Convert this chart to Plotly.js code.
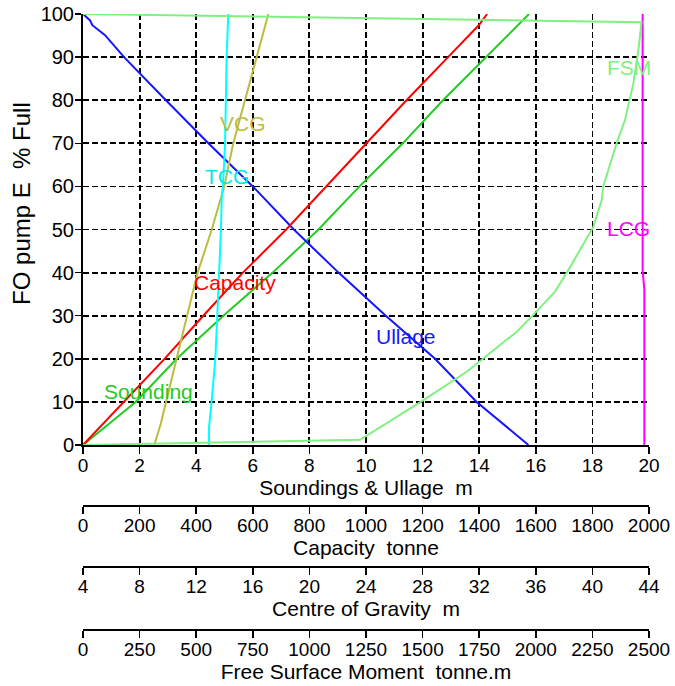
<!DOCTYPE html>
<html>
<head>
<meta charset="utf-8">
<script src="https://cdn.plot.ly/plotly-3.0.1.min.js"></script>
<style>html,body{margin:0;padding:0;background:#fff;}#chart{width:675px;height:686px;}</style>
</head>
<body>
<div id="chart"></div>
<script>
// % full levels and readings
const soundPct   = [0, 10, 20, 30, 40, 50, 60, 70, 80, 90, 100];
const sounding   = [0, 1.86, 3.31, 4.96, 6.7, 8.32, 9.77, 11.3, 12.72, 14.25, 15.76];

const ullagePct  = [0, 10, 20, 30, 40, 50, 60, 70, 80, 90, 95.1, 97.4, 98.5, 100];
const ullage     = [15.74, 13.91, 12.44, 10.7, 9.03, 7.45, 6.0, 4.43, 2.93, 1.45, 0.78, 0.33, 0.25, 0];

const capPct     = [0, 10, 20, 30, 40, 50, 60, 70, 80, 90, 97.5, 100];
const capacity   = [0, 145, 288, 425, 565, 718, 859, 1003, 1143, 1290, 1400, 1428];

const vcgPct     = [0, 5, 10, 20, 30, 40, 50, 60, 70, 80, 90, 100];
const vcg        = [9.04, 9.5, 9.87, 10.62, 11.4, 12.1, 13.1, 13.98, 14.62, 15.45, 16.27, 17.1];

const tcgPct     = [0, 3.9, 10, 20, 30, 40, 50, 57, 62, 70, 80, 90, 100];
const tcg        = [12.9, 12.9, 13.09, 13.35, 13.49, 13.64, 13.75, 13.8, 13.92, 14.04, 14.08, 14.15, 14.27];

const lcgPct     = [0, 36, 40.6, 100];
const lcg        = [43.67, 43.67, 43.55, 43.55];

const fsmPct     = [0, 1.2, 10.4, 17, 26.3, 30.2, 35.6, 40.6, 50.6, 56.8, 60, 70, 75.4, 83.9, 91.6, 98.1, 100];
const fsm        = [0, 1224, 1504, 1695, 1916, 1989, 2085, 2144, 2254, 2291, 2298, 2357, 2394, 2431, 2453, 2467, 0];

const yTicks     = [0, 10, 20, 30, 40, 50, 60, 70, 80, 90, 100];

const labelFont = 'Liberation Sans, Arial, sans-serif';

function line(x, y, color, xa) {
  return {x: x, y: y, type: 'scatter', mode: 'lines', xaxis: xa, yaxis: 'y',
          line: {color: color, width: 2}, hoverinfo: 'skip', showlegend: false};
}

const traces = [
  line(fsm, fsmPct, '#80f080', 'x4'),
  line(sounding, soundPct, '#22cc22', 'x'),
  line(ullage, ullagePct, '#1515ff', 'x'),
  line(capacity, capPct, '#ff0000', 'x2'),
  line(vcg, vcgPct, '#bcbc40', 'x3'),
  line(tcg, tcgPct, '#00ffff', 'x3'),
  line(lcg, lcgPct, '#ff00ff', 'x3')
];

const tickFontX = {family: labelFont, size: 19, color: '#000'};
const titleFont = {family: labelFont, size: 21, color: '#000'};

function lowerAxis(range, dtick, pos, title) {
  return {
    overlaying: 'x', anchor: 'free', position: pos, side: 'bottom',
    range: range, dtick: dtick, tick0: range[0], autorange: false,
    showgrid: false, zeroline: false, showline: true, linecolor: '#000', linewidth: 2,
    ticks: 'outside', ticklen: 7, tickwidth: 1.5, tickcolor: '#000',
    ticklabelstandoff: -5,
    tickfont: tickFontX, title: {text: title, font: titleFont, standoff: 0},
    automargin: false, fixedrange: true
  };
}

const layout = {
  width: 675, height: 686,
  margin: {l: 83, r: 26, t: 14, b: 0},
  paper_bgcolor: '#fff', plot_bgcolor: '#fff',
  showlegend: false,
  xaxis: {
    range: [0, 20], dtick: 2, tick0: 0, autorange: false,
    showgrid: true, gridcolor: '#000', gridwidth: 1.8, griddash: '6px,3px',
    zeroline: false, showline: true, linecolor: '#000', linewidth: 2,
    ticks: 'outside', ticklen: 7, tickwidth: 1.5, tickcolor: '#000',
    ticklabelstandoff: -5,
    tickfont: tickFontX, title: {text: 'Soundings &amp; Ullage  m', font: titleFont, standoff: 0},
    anchor: 'y', automargin: false, fixedrange: true
  },
  xaxis2: lowerAxis([0, 2000], 200, 0.2679, 'Capacity  tonne'),
  xaxis3: lowerAxis([4, 44], 4, 0.1771, 'Centre of Gravity  m'),
  xaxis4: lowerAxis([0, 2500], 250, 0.0833, 'Free Surface Moment  tonne.m'),
  yaxis: {
    domain: [0.3586, 1], range: [0, 100], autorange: false,
    tickvals: yTicks, ticktext: yTicks.map(String),
    showgrid: true, gridcolor: '#000', gridwidth: 1.8, griddash: '6px,3px',
    zeroline: false, showline: true, linecolor: '#000', linewidth: 2,
    ticks: 'outside', ticklen: 6, tickwidth: 1.5, tickcolor: '#000',
    ticklabelstandoff: -3,
    tickfont: {family: labelFont, size: 20, color: '#000'},
    anchor: 'x', automargin: false, fixedrange: true
  },
  annotations: [
    {text: 'VCG', x: 5.65, y: 74.7, color: '#bcbc40'},
    {text: 'TCG', x: 5.09, y: 62.2, color: '#00e8e8'},
    {text: 'Capacity', x: 5.36, y: 37.7, color: '#ff0000'},
    {text: 'Sounding', x: 2.3, y: 12.5, color: '#22cc22'},
    {text: 'Ullage', x: 11.4, y: 25.2, color: '#1515ff'},
    {text: 'FSM', x: 19.29, y: 87.5, color: '#80f080'},
    {text: 'LCG', x: 19.26, y: 50.3, color: '#ff00ff'}
  ].map(a => ({
    text: a.text, x: a.x, y: a.y, xref: 'x', yref: 'y', showarrow: false,
    xanchor: 'center', yanchor: 'middle',
    font: {family: labelFont, size: 21, color: a.color}
  })).concat([{
    text: 'FO pump E  % Full', textangle: -90, showarrow: false,
    xref: 'paper', yref: 'paper', x: -0.1078, y: 0.7188,
    xanchor: 'center', yanchor: 'middle',
    font: {family: labelFont, size: 24, color: '#000'}
  }])
};

Plotly.newPlot('chart', traces, layout, {displayModeBar: false, staticPlot: true});
</script>
</body>
</html>
